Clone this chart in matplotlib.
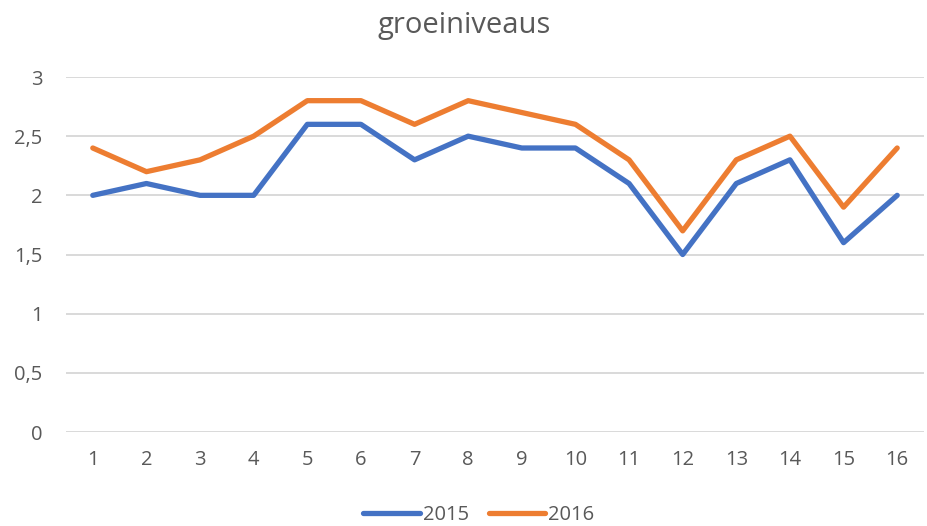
import matplotlib
matplotlib.use("Agg")
import matplotlib.pyplot as plt

categories = [str(i) for i in range(1, 17)]
values_2015 = [2.0, 2.1, 2.0, 2.0, 2.6, 2.6, 2.3, 2.5, 2.4, 2.4, 2.1, 1.5, 2.1, 2.3, 1.6, 2.0]
values_2016 = [2.4, 2.2, 2.3, 2.5, 2.8, 2.8, 2.6, 2.8, 2.7, 2.6, 2.3, 1.7, 2.3, 2.5, 1.9, 2.4]
y_ticks = [0, 0.5, 1, 1.5, 2, 2.5, 3]
y_labels = ["0", "0,5", "1", "1,5", "2", "2,5", "3"]

plt.rcParams["font.family"] = ["Open Sans", "DejaVu Sans"]
TXT = "#595959"

fig = plt.figure(figsize=(9.28, 5.26), dpi=100)
ax = fig.add_axes([0.0711, 0.1787, 0.9246, 0.6749])

x = range(len(categories))
ax.plot(x, values_2015, color="#4472C4", lw=3.8, label="2015", solid_capstyle="round", solid_joinstyle="round")
ax.plot(x, values_2016, color="#ED7D31", lw=3.8, label="2016", solid_capstyle="round", solid_joinstyle="round")

ax.set_xlim(-0.5, len(categories) - 0.5)
ax.set_ylim(0, 3)
ax.set_xticks(list(x))
ax.set_xticklabels(categories)
ax.set_yticks(y_ticks)
ax.set_yticklabels(y_labels)
ax.tick_params(length=0, labelsize=14.5, colors=TXT)
ax.tick_params(axis="x", pad=13)
ax.tick_params(axis="y", pad=17)
ax.grid(axis="y", color="#D9D9D9", lw=1.4)
ax.set_axisbelow(True)
for s in ax.spines.values():
    s.set_visible(False)

fig.text(0.5, 0.952, "groeiniveaus", ha="center", va="center", fontsize=21, color=TXT)
fig.legend(loc="center", bbox_to_anchor=(0.516, 0.02), ncol=2, frameon=False,
           fontsize=14.5, labelcolor=TXT, handlelength=2.8, handletextpad=0.15, columnspacing=1.0)

fig.savefig("out.png", dpi=100)
